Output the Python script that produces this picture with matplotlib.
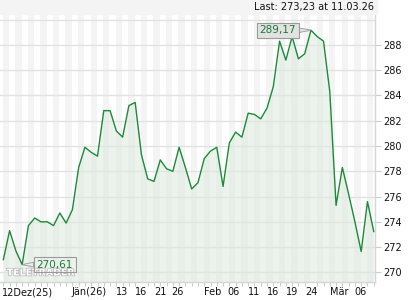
import numpy as np
import matplotlib.pyplot as plt
import matplotlib.patheffects as pe
from matplotlib.patches import Rectangle

# daily closes, 10 Dec 2025 .. 11 Mar 2026
prices = [271.0, 273.3, 271.7, 270.61, 273.7, 274.3, 274.0, 274.0, 273.7, 274.7,
          273.9, 274.96, 278.3, 279.9, 279.5, 279.2, 282.8, 282.8, 281.2, 280.7,
          283.2, 283.45, 279.3, 277.4, 277.2, 278.9, 278.2, 278.0, 279.9, 278.3,
          276.6, 277.1, 279.0, 279.6, 279.9, 276.8, 280.25, 281.1, 280.7, 282.6,
          282.5, 282.15, 283.0, 284.7, 288.3, 286.8, 288.66, 286.9, 287.3, 289.17,
          288.66, 288.3, 284.3, 275.3, 278.3, 276.2, 274.0, 271.65, 275.6, 273.23]
tick_pos = [3.85, 13.7, 18.9, 22.0, 24.95, 27.8, 33.3, 36.7, 39.9, 42.9, 45.97, 49.0, 53.45, 56.96]
tick_labels = ['12Dez(25)', 'Jän(26)', '13', '16', '21', '26', 'Feb', '06', '11', '16',
               '19', '24', 'Mär', '06']
y_ticks = [270, 272, 274, 276, 278, 280, 282, 284, 286, 288]

x = np.arange(len(prices))
ymin, ymax = 269.26, 290.45

fig = plt.figure(figsize=(4.2, 3.0), dpi=100)
fig.patches.append(Rectangle((0, 286/300), 377/420, 14/300, transform=fig.transFigure,
                             color='#f4f4f4', zorder=0))
fig.text(374/420, 293/300, 'Last: 273,23 at 11.03.26', ha='right', va='center',
         fontsize=7, color='#111111')

ax = fig.add_axes([0, 18.3/300, 375/420, 267.7/300])
ax.set_xlim(-0.53, 59.2)
ax.set_ylim(ymin, ymax)

for k in range(0, 61, 2):
    ax.axvspan(k - 0.1, k + 0.9, color='#f4f4f4', lw=0, zorder=0)
for v in range(270, 291, 2):
    ax.axhline(v, color='#e2e2e2', lw=1, zorder=1)

ax.fill_between(x, prices, ymin, color='#dde8dd', alpha=0.55, lw=0, zorder=2)
ax.plot(x, prices, color='#1b8a3b', lw=1.0, zorder=3)

# max / min labels
imax = int(np.argmax(prices))
imin = int(np.argmin(prices))
box = dict(boxstyle='square,pad=0.25', fc='#e2e2e2', ec='#9a9a9a', lw=0.8)
ax.annotate('289,17', xy=(x[imax], prices[imax]), xytext=(43.7, 289.15),
            ha='center', va='center', fontsize=7.5, color='#1b7a35', bbox=box,
            arrowprops=dict(arrowstyle='wedge,tail_width=0.45', fc='#e2e2e2',
                            ec='#9a9a9a', lw=0.6, shrinkA=0, shrinkB=0), zorder=5)
ax.text(6.0, 269.95, 'TELETRADER', fontsize=6.8, fontweight='bold', color='white',
        ha='center', va='center', zorder=4,
        path_effects=[pe.withStroke(linewidth=1.0, foreground='#b4b4b4')])
ax.annotate('270,61', xy=(x[imin], prices[imin]), xytext=(8.2, 270.62),
            ha='center', va='center', fontsize=7.5, color='#1b7a35',
            bbox=dict(boxstyle='square,pad=0.25', fc='none', ec='#9a9a9a', lw=0.8),
            arrowprops=dict(arrowstyle='wedge,tail_width=0.45', fc='none',
                            ec='#9a9a9a', lw=0.6, shrinkA=0, shrinkB=0), zorder=5)

ax.yaxis.tick_right()
ax.set_yticks(y_ticks)
ax.set_yticklabels([str(v) for v in y_ticks])
ax.set_xticks(tick_pos)
ax.set_xticklabels(tick_labels)
ax.set_xticks(x, minor=True)
ax.tick_params(axis='y', length=4, width=0.8, color='#cccccc', labelsize=7,
               labelcolor='#111111', pad=2)
ax.tick_params(axis='x', which='major', length=0, labelsize=7, labelcolor='#111111', pad=4)
ax.tick_params(axis='x', which='minor', length=3, width=0.8, color='#cccccc')

for s in ['top', 'left']:
    ax.spines[s].set_visible(False)
for s in ['right', 'bottom']:
    ax.spines[s].set_color('#d6d6d6')
    ax.spines[s].set_linewidth(1)

fig.savefig('out.png', dpi=100)
